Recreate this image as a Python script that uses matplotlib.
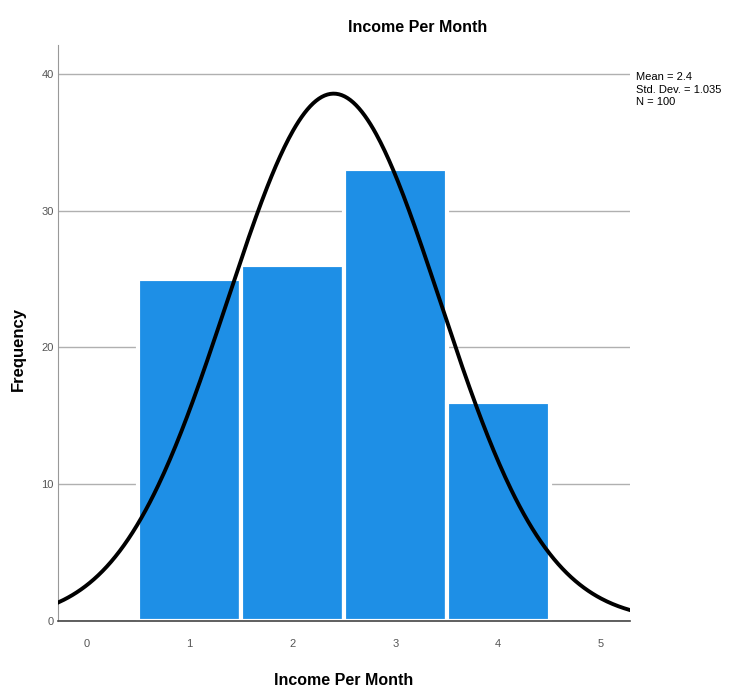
import numpy as np
import matplotlib.pyplot as plt

# histogram data (SPSS output)
bins = [1, 2, 3, 4]
counts = [25, 26, 33, 16]
mean = 2.4
std = 1.035
n = 100
yticks = [0, 10, 20, 30, 40]
xticks = [0, 1, 2, 3, 4, 5]

font = 'Liberation Sans'

fig = plt.figure(figsize=(7.29, 6.89), dpi=100)
ax = fig.add_axes([0.0796, 0.0987, 0.7844, 0.836])

ax.bar(bins, counts, width=1.0, color='#1e8fe6', edgecolor='white', linewidth=3, zorder=2)

x = np.linspace(-0.28, 5.28, 400)
y = n * 1.0 / (std * np.sqrt(2 * np.pi)) * np.exp(-0.5 * ((x - mean) / std) ** 2)
ax.plot(x, y, color='black', lw=2.8, zorder=3)

ax.set_xlim(-0.28, 5.28)
ax.set_ylim(0, 42.1)
ax.set_yticks(yticks)
ax.set_xticks(xticks)
ax.yaxis.grid(True, color='#b0b0b0', lw=1)
ax.set_axisbelow(True)
ax.tick_params(length=0, labelsize=8, colors='#555555')
ax.tick_params(axis='x', pad=13)
ax.tick_params(axis='y', pad=3)
for lab in ax.get_xticklabels() + ax.get_yticklabels():
    lab.set_family(font)

for s in ['top', 'right']:
    ax.spines[s].set_visible(False)
ax.spines['left'].set_color('#999999')
ax.spines['bottom'].set_color('#444444')
ax.spines['bottom'].set_linewidth(1.2)

fig.text(0.025, 0.494, 'Frequency', rotation=90, ha='center', va='center',
         fontsize=12, fontweight='bold', family=font)
fig.text(0.471, 0.013, 'Income Per Month', ha='center', va='center',
         fontsize=11.5, fontweight='bold', family=font)
fig.text(0.573, 0.96, 'Income Per Month', ha='center', va='center',
         fontsize=11.5, fontweight='bold', family=font)
fig.text(0.872, 0.895, 'Mean = 2.4\nStd. Dev. = 1.035\nN = 100', ha='left', va='top',
         fontsize=8, family=font, linespacing=1.3)

fig.savefig('out.png', dpi=100)
